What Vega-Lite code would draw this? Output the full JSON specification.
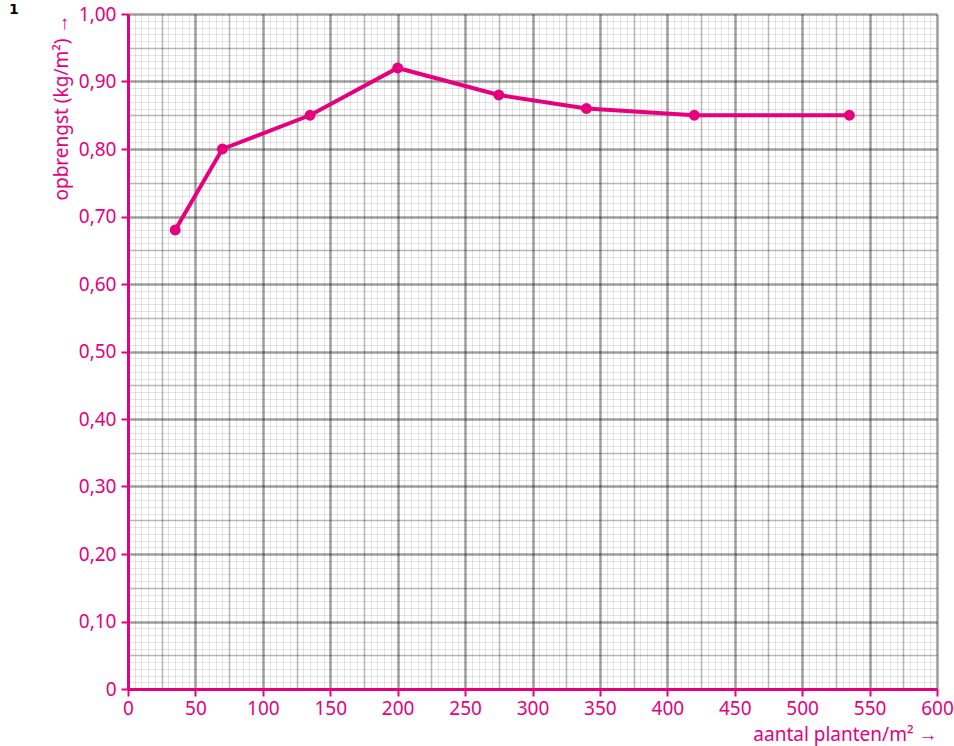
{
  "$schema": "https://vega.github.io/schema/vega-lite/v6.json",
  "width": 809,
  "height": 675,
  "autosize": {"type": "none"},
  "padding": {"left": 128, "top": 14, "right": 17, "bottom": 57},
  "background": "white",
  "title": {
    "text": "1",
    "anchor": "start",
    "frame": "group",
    "baseline": "top",
    "dx": -119,
    "dy": 12,
    "fontSize": 14,
    "fontWeight": "bold",
    "font": "DejaVu Sans",
    "color": "#000000",
    "offset": 0
  },
  "config": {
    "view": {"stroke": null},
    "axis": {"labelFont": "Noto Sans", "titleFont": "Noto Sans"}
  },
  "data": {
    "values": [
      {"planten": 35, "opbrengst": 0.68},
      {"planten": 70, "opbrengst": 0.80},
      {"planten": 135, "opbrengst": 0.85},
      {"planten": 200, "opbrengst": 0.92},
      {"planten": 275, "opbrengst": 0.88},
      {"planten": 340, "opbrengst": 0.86},
      {"planten": 420, "opbrengst": 0.85},
      {"planten": 535, "opbrengst": 0.85}
    ]
  },
  "encoding": {
    "x": {
      "field": "planten",
      "type": "quantitative",
      "scale": {"domain": [0, 600], "nice": false, "zero": true},
      "axis": {
        "title": "aantal planten/m² →",
        "titleAnchor": "end",
        "titleColor": "#E6007E",
        "titleFontSize": 19,
        "titleFontWeight": "normal",
        "titlePadding": 7,
        "tickCount": 120,
        "labelOverlap": false,
        "labelFlush": false,
        "labelColor": "#E6007E",
        "labelFontSize": 19,
        "labelPadding": 3,
        "labelExpr": "round(datum.value) % 50 === 0 ? datum.label : ''",
        "domain": true,
        "domainColor": "#E6007E",
        "domainWidth": 3,
        "ticks": true,
        "tickSize": 7,
        "tickWidth": 2,
        "tickColor": {"condition": {"test": "round(datum.value) % 50 === 0", "value": "#E6007E"}, "value": "transparent"},
        "grid": true,
        "gridColor": "#000000",
        "gridOpacity": {"condition": [{"test": "round(datum.value) % 50 === 0", "value": 0.38}, {"test": "round(datum.value) % 25 === 0", "value": 0.28}], "value": 0.1},
        "gridWidth": {"condition": [{"test": "round(datum.value) % 50 === 0", "value": 2.5}, {"test": "round(datum.value) % 25 === 0", "value": 1.5}], "value": 1}
      }
    },
    "y": {
      "field": "opbrengst",
      "type": "quantitative",
      "scale": {"domain": [0, 1], "nice": false, "zero": true},
      "axis": {
        "title": "opbrengst (kg/m²) →",
        "titleAnchor": "end",
        "titleColor": "#E6007E",
        "titleFontSize": 19,
        "titleFontWeight": "normal",
        "titlePadding": 7,
        "tickCount": 100,
        "labelOverlap": false,
        "labelFlush": false,
        "labelColor": "#E6007E",
        "labelFontSize": 19,
        "labelPadding": 5,
        "labelExpr": "round(datum.value * 100) % 10 === 0 ? (datum.value === 0 ? '0' : replace(format(datum.value, '.2f'), '.', ',')) : ''",
        "domain": true,
        "domainColor": "#E6007E",
        "domainWidth": 3,
        "ticks": true,
        "tickSize": 7,
        "tickWidth": 2,
        "tickColor": {"condition": {"test": "round(datum.value * 100) % 10 === 0", "value": "#E6007E"}, "value": "transparent"},
        "grid": true,
        "gridColor": "#000000",
        "gridOpacity": {"condition": [{"test": "round(datum.value * 100) % 10 === 0", "value": 0.38}, {"test": "round(datum.value * 100) % 5 === 0", "value": 0.28}], "value": 0.1},
        "gridWidth": {"condition": [{"test": "round(datum.value * 100) % 10 === 0", "value": 2.5}, {"test": "round(datum.value * 100) % 5 === 0", "value": 1.5}], "value": 1}
      }
    }
  },
  "layer": [
    {"mark": {"type": "line", "color": "#E6007E", "strokeWidth": 4}},
    {"mark": {"type": "point", "filled": true, "color": "#E6007E", "size": 120, "opacity": 1}}
  ]
}
